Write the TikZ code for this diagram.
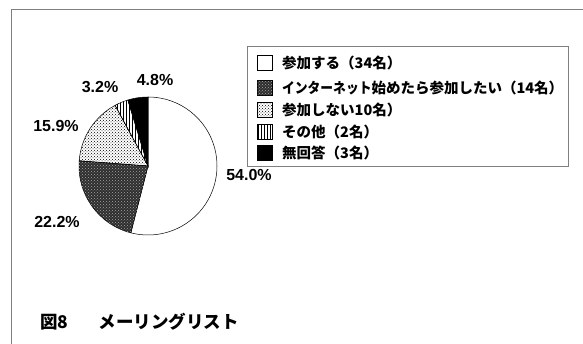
\documentclass[tikz,border=0pt]{standalone}
\usepackage{fontspec}
\usepackage{graphicx}
\setmainfont{Liberation Sans}
\newfontfamily\jp{Noto Sans CJK JP}
\usepackage{tikz}
\usetikzlibrary{positioning,patterns}

\begin{document}
\begin{tikzpicture}[x=1pt,y=1pt,
  pct/.style={font=\fontsize{16}{16}\selectfont\bfseries},
  keytext/.style={anchor=west,inner sep=0pt,font=\jp\fontsize{14.5}{14.5}\selectfont\bfseries},
  keybox/.style={draw,minimum size=15pt,inner sep=0pt},
  captext/.style={anchor=west,inner sep=0pt,font=\jp\fontsize{17.5}{17.5}\selectfont\bfseries},
  whiteslice/.style={fill=white},
  darkslice/.style={fill=black!82,postaction={pattern=crosshatch dots,pattern color=black!35}},
  dotslice/.style={pattern=crosshatch dots},
  lineslice/.style={pattern=vertical lines},
  blackslice/.style={fill=black}]
\useasboundingbox (0,0) rectangle (583,344);
% page frame
\draw[black!50,line width=0.8pt] (11,0) -- (11,335) -- (583,335);
% pie
\coordinate (ctr) at (148,178);
\foreach \a/\b/\s in {90/-104.4/whiteslice,-104.4/-184.3/darkslice,-184.3/-241.5/dotslice,-241.5/-253/lineslice,-253/-270/blackslice}
  \draw[style=\s,line width=0.5pt] (ctr) -- ++(\a:69) arc[start angle=\a,end angle=\b,radius=69] -- cycle;
\node[pct] (p540) at (249,169) {54.0\%};
\node[pct] (p222) at (57,122) {22.2\%};
\node[pct] (p159) at (56,218) {15.9\%};
\node[pct] (p32) at (100,257) {3.2\%};
\node[pct] (p48) at (155,264) {4.8\%};
% legend
\node[draw=black!50,minimum width=321pt,minimum height=120pt,inner sep=0pt] (legbox) at (407.5,238) {};
\foreach \y/\s/\t [count=\i] in {281/whiteslice/参加する（34名）,
  256/darkslice/{\scalebox{0.88}[1]{インターネット}始めたら参加したい（14名）},
  234/dotslice/参加しない10名）,
  212/lineslice/その他（2名）,
  191/blackslice/無回答（3名）}{
  \node[keybox,style=\s] (key\i) at (264.5,\y) {};
  \node[keytext] (lab\i) at (282,\y) {\t};
}
% caption
\node[captext] (fig) at (40,22) {図8};
\node[captext,right=30pt of fig] (title) {メーリングリスト};
\end{tikzpicture}
\end{document}
